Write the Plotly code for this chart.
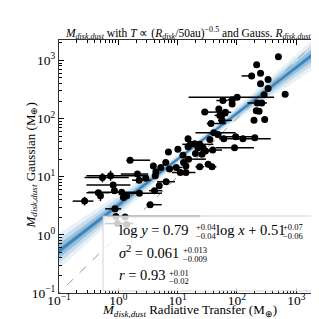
import numpy as np
import plotly.graph_objects as go

# ---------------- data ----------------
x_rt = [500, 215, 177, 250, 250, 335, 335, 650, 287, 101,
        58, 83, 83, 221, 262, 212, 236, 28.7, 49.5, 56,
        51.5, 64, 194, 294, 56, 36.6, 40.7, 48, 35, 60,
        95, 126, 200, 15, 16.4, 19.4, 23.6, 22, 26.8, 29.5,
        39, 91, 7.0, 10.1, 15, 20, 25.8, 12.3, 15.3, 1.58,
        6.3, 5.2, 3.9, 12.6, 13.8, 9.5, 23.6, 32.7, 38, 4.3,
        7.3, 11.1, 13.8, 2.1, 0.74, 0.54, 2.24, 2.9, 4.2, 6.4,
        4.9, 0.82, 2.27, 1.14, 0.86, 0.46, 0.5, 4.07, 1.22, 1.38,
        0.27, 3.44, 0.88, 0.91, 1.3, 0.97, 1.38]
y_gauss = [1150, 840, 540, 600, 395, 470, 327, 262, 255, 233,
           204, 210, 177, 185, 185, 136, 133, 129, 146, 116,
           113, 128, 93, 96, 93, 82, 57, 53, 43.7, 45,
           48.6, 45, 46.7, 45, 36, 37, 36, 31.5, 31.5, 27.6,
           28.7, 31.5, 26.5, 29.5, 32.8, 25, 24.3, 23.3, 20, 19.2,
           17.5, 14.4, 15.3, 17.5, 15.3, 14.4, 14.8, 16.4, 14.8, 12.1,
           13.5, 11.8, 11.8, 11.1, 10.4, 9.7, 8.7, 9.4, 10.4, 8.2,
           7.0, 7.2, 5.2, 5.4, 5.75, 5.3, 4.7, 5.75, 4.4, 4.7,
           3.8, 3.3, 2.8, 2.07, 2.03, 1.56, 1.51]
# lower / upper bounds of the horizontal error bars (None = no visible bar)
x_low = [None, None, 120, None, None, None, None, None, None, 15.3,
         45, 70, None, 150, 230, 190, None, 25.5, None, None,
         42, 55, None, None, 48, 31, 20, None, None, 50,
         43.5, 95, None, None, 12, None, 18, None, None, 25,
         33, 43.5, None, None, None, None, None, None, 13, 1.37,
         None, None, None, None, None, 7, 20, None, 32, None,
         None, 8, 11, 1.1, 0.29, 0.27, 1.7, None, None, 4.5,
         None, 0.29, 1.38, 0.31, None, 0.29, None, 3.3, None, None,
         0.17, 3.0, 0.6, 0.63, None, 0.6, None]
x_high = [None, None, 190, None, None, None, None, None, None, 424,
          70, 95, None, 300, 320, 240, None, 49.5, None, None,
          70, 80, None, None, 82, 65, 95, None, None, 108,
          207, 372, None, None, 25, None, 40, None, None, 40.7,
          56, 194, None, None, None, None, None, None, 30, 3.44,
          None, None, None, None, None, 12, 28, None, 45, None,
          None, 14, 20, 3.2, 3.2, 1.5, 3.5, None, None, 9,
          None, 1.6, 5.4, 2.18, None, 0.72, None, 5.5, None, None,
          0.38, 5.4, 1.12, 24.3, None, 1.8, None]
# vertical error bars (index: (low, high))
y_bounds = {64: (8.5, 12.7), 65: (8.0, 11.5), 76: (3.8, 5.9), 80: (3.2, 4.5)}

# fit results
slope, slope_err = 0.79, 0.04
intercept, intercept_up, intercept_lo = 0.51, 0.07, 0.06
sigma2, sigma2_up, sigma2_lo = 0.061, 0.013, 0.009
r_val, r_up, r_lo = 0.93, 0.01, 0.02

x_ticks = [0.1, 1, 10, 100, 1000]
tick_text = ["10<sup>−1</sup>", "10<sup>0</sup>", "10<sup>1</sup>", "10<sup>2</sup>", "10<sup>3</sup>"]
title_text = ("<i>M</i><sub><i>disk,dust</i></sub> with <i>T</i> ∝ "
              "(<i>R</i><sub><i>disk</i></sub>/50au)<sup>−0.5</sup> and Gauss. "
              "<i>R</i><sub><i>disk,dust</i></sub>")
xlabel = "<i>M</i><sub><i>disk,dust</i></sub> Radiative Transfer (M<sub>⊕</sub>)"
ylabel = "<i>M</i><sub><i>disk,dust</i></sub> Gaussian (M<sub>⊕</sub>)"

# ---------------- figure ----------------
FONT = "Liberation Serif"
W = H = 319
L, R, T, B = 51, 10, 32, 34
pw, ph = W - L - R, H - T - B


def px(xp):   # pixel -> paper x
    return (xp - L) / pw


def py(yp):   # pixel -> paper y
    return (H - B - yp) / ph


fig = go.Figure()

# fit band
lx = np.linspace(-1.2, 3.6, 60)
pivot = 1.3
sig = np.sqrt((slope_err * (lx - pivot)) ** 2 + 0.02 ** 2)
ly = slope * lx + intercept
for k, a in [(3.2, 0.10), (2.2, 0.16), (1.3, 0.28), (0.5, 0.45)]:
    xs = np.concatenate([lx, lx[::-1]])
    ys = np.concatenate([ly + k * sig, (ly - k * sig)[::-1]])
    fig.add_trace(go.Scatter(x=10 ** xs, y=10 ** ys, mode="lines", fill="toself",
                             fillcolor=f"rgba(31,119,180,{a})", line=dict(width=0),
                             hoverinfo="skip", showlegend=False))
fig.add_trace(go.Scatter(x=10 ** lx, y=10 ** ly, mode="lines",
                         line=dict(color="rgba(31,110,180,0.6)", width=2),
                         hoverinfo="skip", showlegend=False))

# 1:1 line
fig.add_trace(go.Scatter(x=[0.05, 5000], y=[0.05, 5000], mode="lines",
                         line=dict(color="#999999", width=1, dash="dash"),
                         showlegend=False))

# data points
xm = [x - lo if lo is not None else 0 for x, lo in zip(x_rt, x_low)]
xp = [hi - x if hi is not None else 0 for x, hi in zip(x_rt, x_high)]
ym = [y_gauss[i] - y_bounds[i][0] if i in y_bounds else 0 for i in range(len(y_gauss))]
yp = [y_bounds[i][1] - y_gauss[i] if i in y_bounds else 0 for i in range(len(y_gauss))]
fig.add_trace(go.Scatter(
    x=x_rt, y=y_gauss, mode="markers",
    marker=dict(color="black", size=7),
    error_x=dict(type="data", symmetric=False, array=xp, arrayminus=xm,
                 color="black", thickness=1.5, width=0),
    error_y=dict(type="data", symmetric=False, array=yp, arrayminus=ym,
                 color="black", thickness=1.5, width=0),
    showlegend=False))

axis_common = dict(
    type="log", range=[-1, 3.35], tickvals=x_ticks, ticktext=tick_text,
    ticks="inside", ticklen=5, tickwidth=1, tickcolor="black",
    minor=dict(ticks="inside", ticklen=2.5, tickcolor="black", dtick="D1"),
    showline=True, linecolor="#333333", linewidth=1.2, mirror="allticks",
    showgrid=False, zeroline=False, automargin=False,
    tickfont=dict(family=FONT, size=13.5, color="black"),
)
fig.update_xaxes(**axis_common, ticklabelstandoff=-5)
fig.update_yaxes(**axis_common)

# legend box
fig.add_shape(type="rect", xref="paper", yref="paper",
              x0=px(95), x1=px(307), y0=py(283), y1=py(208),
              fillcolor="rgba(255,255,255,0.8)", line=dict(color="rgba(200,200,200,0.8)", width=1),
              layer="above")

ann = []
# axis titles and title
ann.append(dict(text=title_text, x=px(180), y=py(15), xref="paper", yref="paper",
                xanchor="center", showarrow=False, font=dict(family=FONT, size=11.5, color="black")))
ann.append(dict(text=xlabel, x=px(181), y=py(313), xref="paper", yref="paper",
                xanchor="center", showarrow=False, font=dict(family=FONT, size=13, color="black")))
ann.append(dict(text=ylabel, x=px(12), y=py(158), xref="paper", yref="paper", textangle=-90,
                showarrow=False, font=dict(family=FONT, size=13, color="black")))


def fmt(v, nd):
    return f"{v:.{nd}f}"


lines = [
    (226, [(109, f"log <i>y</i> = {fmt(slope, 2)}", None),
           (186, None, (fmt(slope_err, 2), fmt(slope_err, 2))),
           (206, f"log <i>x</i> + {fmt(intercept, 2)}", None),
           (273, None, (fmt(intercept_up, 2), fmt(intercept_lo, 2)))]),
    (248.5, [(109, f"<i>σ</i><sup>2</sup> = {fmt(sigma2, 3)}", None),
             (173, None, (fmt(sigma2_up, 3), fmt(sigma2_lo, 3)))]),
    (271, [(109, f"<i>r</i> = {fmt(r_val, 2)}", None),
           (159, None, (fmt(r_up, 2), fmt(r_lo, 2)))]),
]
for base, pieces in lines:
    for xpix, txt, scr in pieces:
        if txt is not None:
            ann.append(dict(text=txt, x=px(xpix), y=py(base - 4.5), xref="paper", yref="paper",
                            xanchor="left", yanchor="middle", showarrow=False,
                            font=dict(family=FONT, size=14.5, color="black")))
        else:
            ann.append(dict(text="+" + scr[0], x=px(xpix), y=py(base - 6.5), xref="paper", yref="paper",
                            xanchor="left", yanchor="middle", showarrow=False,
                            font=dict(family=FONT, size=8.5, color="black")))
            ann.append(dict(text="−" + scr[1], x=px(xpix), y=py(base + 2), xref="paper", yref="paper",
                            xanchor="left", yanchor="middle", showarrow=False,
                            font=dict(family=FONT, size=8.5, color="black")))

fig.update_layout(width=W, height=H, autosize=False,
                  margin=dict(l=L, r=R, t=T, b=B, autoexpand=False),
                  paper_bgcolor="white", plot_bgcolor="white",
                  annotations=ann, showlegend=False)

fig.write_html("out.html")
